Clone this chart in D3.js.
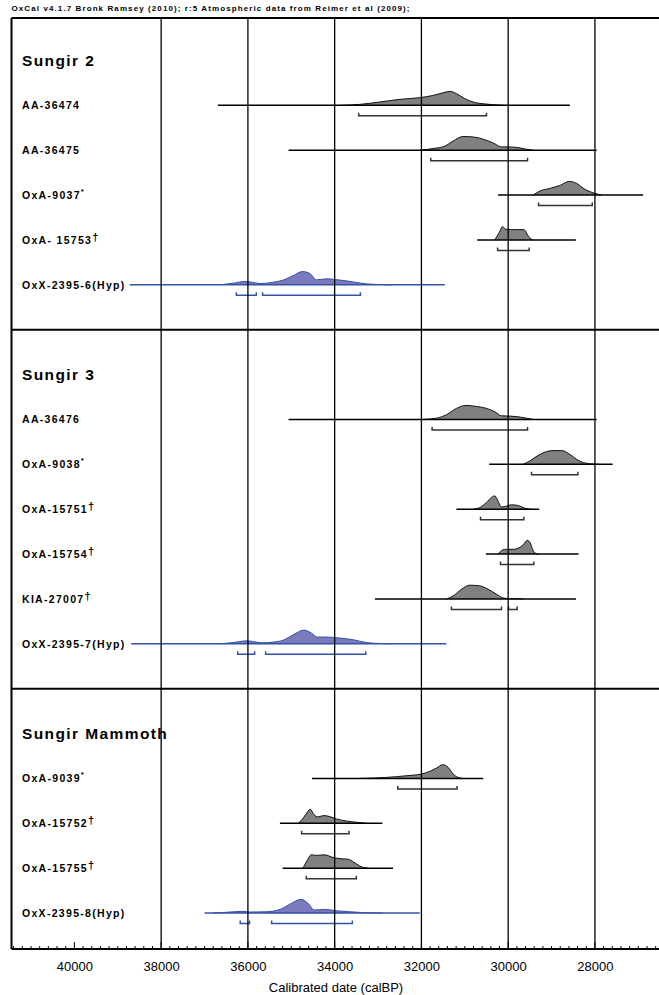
<!DOCTYPE html>
<html>
<head>
<meta charset="utf-8">
<script src="https://cdn.jsdelivr.net/npm/d3@7"></script>
<style>
  body { margin: 0; background: #fff; }
  svg { display: block; font-family: Arial, "Liberation Sans", sans-serif; }
</style>
</head>
<body>
<div class="chart"></div>
<script>
// groups and samples, top to bottom
var groups = ["Sungir 2", "Sungir 3", "Sungir Mammoth"];
var sampleLabels = ["AA-36474", "AA-36475", "OxA-9037", "OxA- 15753", "OxX-2395-6(Hyp)",
  "AA-36476", "OxA-9038", "OxA-15751", "OxA-15754", "KIA-27007", "OxX-2395-7(Hyp)",
  "OxA-9039", "OxA-15752", "OxA-15755", "OxX-2395-8(Hyp)"];
var sampleGroup = [0, 0, 0, 0, 0, 1, 1, 1, 1, 1, 1, 2, 2, 2, 2];
var sampleMark = ["", "", "*", "\u2020", "", "", "*", "\u2020", "\u2020", "\u2020", "", "*", "\u2020", "\u2020", ""];
var sampleHyp = [false, false, false, false, true, false, false, false, false, false, true, false, false, false, true];

// extent of the horizontal line for each sample (calBP)
var lineRanges = [[36693, 28578], [35063, 27962], [30235, 26890], [30715, 28440], [38725, 31460],
  [35063, 27962], [30438, 27592], [31192, 29285], [30515, 28377], [33073, 28438], [38690, 31427],
  [34523, 30577], [35262, 32900], [35200, 32654], [37000, 32038]];

// 95.4% ranges (brackets)
var ranges95 = [
  [[33446, 30500]], [[31785, 29554]], [[29300, 28062]], [[30244, 29516]], [[36267, 35807], [35661, 33406]],
  [[31754, 29554]], [[29462, 28392]], [[30638, 29638]], [[30177, 29408]], [[31308, 30154], [29992, 29792]], [[36236, 35845], [35592, 33283]],
  [[32546, 31177]], [[34762, 33669]], [[34654, 33500]], [[36177, 35962], [35454, 33592]]
];

// probability distributions: [calBP, relative probability]
var densAA36474 = [[33885, 0], [33423, 0.07], [32962, 0.24], [32500, 0.43], [32038, 0.55], [31731, 0.71], [31500, 0.9], [31346, 1], [31192, 0.84], [31000, 0.48], [30808, 0.24], [30500, 0.09], [30192, 0.02], [30038, 0]];
var densAA36475 = [[32038, 0], [31731, 0.12], [31462, 0.29], [31269, 0.66], [31038, 0.98], [30808, 0.95], [30577, 0.79], [30346, 0.52], [30154, 0.24], [30000, 0.24], [29769, 0.19], [29615, 0.09], [29423, 0]];
var densOxA9037 = [[29423, 0], [29269, 0.29], [29038, 0.48], [28808, 0.69], [28592, 0.98], [28423, 0.84], [28231, 0.41], [28038, 0.16], [27846, 0]];
var densOxA15753 = [[30308, 0], [30208, 0.52], [30131, 0.95], [30054, 0.76], [29923, 0.74], [29638, 0.74], [29538, 0.29], [29462, 0.05], [29420, 0]];
var densOxX23956 = [[36642, 0], [36336, 0.12], [36067, 0.24], [35914, 0.19], [35722, 0.09], [35415, 0.19], [35185, 0.34], [34955, 0.66], [34740, 0.95], [34572, 0.81], [34418, 0.36], [34188, 0.43], [33881, 0.34], [33574, 0.21], [33268, 0.07], [32961, 0.02], [32654, 0]];
var densAA36476 = [[31962, 0], [31654, 0.09], [31423, 0.34], [31192, 0.79], [30977, 1], [30731, 0.93], [30500, 0.79], [30308, 0.55], [30154, 0.26], [29962, 0.24], [29769, 0.19], [29577, 0.09], [29423, 0]];
var densOxA9038 = [[29654, 0], [29500, 0.24], [29308, 0.64], [29115, 0.91], [28962, 0.98], [28769, 0.98], [28577, 0.71], [28423, 0.36], [28269, 0.12], [28038, 0.02], [27880, 0]];
var densOxA15751 = [[30808, 0], [30654, 0.12], [30500, 0.48], [30385, 0.84], [30308, 0.95], [30254, 0.71], [30154, 0.16], [30077, 0.19], [29923, 0.31], [29769, 0.26], [29615, 0.07], [29462, 0]];
var densOxA15754 = [[30231, 0], [30131, 0.29], [30038, 0.34], [29885, 0.34], [29731, 0.48], [29638, 0.71], [29562, 0.98], [29500, 0.84], [29423, 0.24], [29346, 0.02], [29300, 0]];
var densKIA27007 = [[31423, 0], [31269, 0.21], [31077, 0.69], [30885, 0.98], [30654, 0.93], [30462, 0.69], [30269, 0.34], [30115, 0.07], [29962, 0.02], [29650, 0]];
var densOxX23957 = [[36642, 0], [36336, 0.09], [36029, 0.21], [35875, 0.16], [35683, 0.07], [35415, 0.12], [35185, 0.26], [34955, 0.64], [34710, 0.98], [34533, 0.76], [34403, 0.48], [34188, 0.48], [33881, 0.41], [33574, 0.29], [33268, 0.09], [32961, 0.02], [32654, 0]];
var densOxA9039 = [[33423, 0], [32808, 0.07], [32346, 0.19], [32000, 0.31], [31808, 0.5], [31654, 0.74], [31500, 0.98], [31385, 0.79], [31269, 0.31], [31154, 0.07], [31038, 0]];
var densOxA15752 = [[34846, 0], [34769, 0.19], [34669, 0.62], [34562, 1], [34477, 0.62], [34385, 0.45], [34254, 0.55], [34115, 0.48], [33962, 0.31], [33731, 0.16], [33500, 0.07], [33269, 0]];
var densOxA15755 = [[34731, 0], [34638, 0.52], [34538, 0.95], [34423, 0.91], [34231, 0.95], [34038, 0.76], [33808, 0.66], [33692, 0.64], [33562, 0.43], [33423, 0.16], [33308, 0.02], [33230, 0]];
var densOxX23958 = [[36808, 0], [36500, 0.05], [36115, 0.12], [35962, 0.07], [35577, 0.09], [35231, 0.29], [35038, 0.62], [34769, 0.98], [34615, 0.69], [34462, 0.21], [34231, 0.26], [33962, 0.16], [33654, 0.09], [33269, 0.02], [32900, 0]];

var densities = [densAA36474, densAA36475, densOxA9037, densOxA15753, densOxX23956,
  densAA36476, densOxA9038, densOxA15751, densOxA15754, densKIA27007, densOxX23957,
  densOxA9039, densOxA15752, densOxA15755, densOxX23958];

var axisDomain = [41450, 26500];
var gridYears = [38000, 36000, 34000, 32000, 30000, 28000];
var tickYears = [40000, 38000, 36000, 34000, 32000, 30000, 28000];

var svgWidth = 659, svgHeight = 995;
var plotTop = 18, plotBottom = 949, plotLeft = 11.5, plotRight = 660;
var peakHeight = 14;

var svg = d3.select(".chart").append("svg")
  .attr("width", svgWidth)
  .attr("height", svgHeight);

var x = d3.scaleLinear().domain(axisDomain).range([plotLeft, plotRight]);

// build the row slots: group title, its samples, then a divider
var slots = [];
groups.forEach(function(g, gi) {
  slots.push({ type: "title", text: g });
  sampleGroup.forEach(function(sg, si) {
    if (sg === gi) slots.push({ type: "sample", index: si });
  });
  if (gi < groups.length - 1) slots.push({ type: "divider" });
});

var y = d3.scaleLinear().domain([0, slots.length - 1]).range([60.5, 913]);
var h = d3.scaleLinear().domain([0, 1]).range([0, peakHeight]);

// header
svg.append("text")
  .attr("x", plotLeft)
  .attr("y", 11)
  .attr("textLength", 398)
  .attr("lengthAdjust", "spacing")
  .style("font-size", "8px")
  .style("font-weight", "bold")
  .text("OxCal v4.1.7 Bronk Ramsey (2010); r:5 Atmospheric data from Reimer et al (2009);");

var plot = svg.append("g");

// distributions, lines and brackets
slots.forEach(function(s, i) {
  if (s.type !== "sample") return;
  var k = s.index;
  var yb = y(i);
  var hyp = sampleHyp[k];
  var lineColor = hyp ? "#3553a5" : "#000";
  var fillColor = hyp ? "#7a7abd" : "#808080";

  var area = d3.area()
    .x(d => x(d[0]))
    .y0(yb)
    .y1(d => yb - h(d[1]))
    .curve(d3.curveMonotoneX);

  var top = d3.line()
    .x(d => x(d[0]))
    .y(d => yb - h(d[1]))
    .curve(d3.curveMonotoneX);

  plot.append("path")
    .attr("d", area(densities[k]))
    .attr("fill", fillColor);

  plot.append("path")
    .attr("d", top(densities[k]))
    .attr("fill", "none")
    .attr("stroke", hyp ? "#3553a5" : "#111")
    .attr("stroke-width", 1);

  plot.append("line")
    .attr("x1", x(lineRanges[k][0]))
    .attr("x2", x(lineRanges[k][1]))
    .attr("y1", yb)
    .attr("y2", yb)
    .attr("stroke", lineColor)
    .attr("stroke-width", 1.5);

  var yr = yb + 10.5;
  ranges95[k].forEach(function(r) {
    plot.append("path")
      .attr("d", "M" + x(r[0]) + "," + (yr - 3) + "V" + yr + "H" + x(r[1]) + "V" + (yr - 3))
      .attr("fill", "none")
      .attr("stroke", hyp ? "#3553a5" : "#333")
      .attr("stroke-width", 1.5);
  });

  // label with superscript mark
  var label = svg.append("text")
    .attr("x", 22)
    .attr("y", yb + 4)
    .style("font-size", "10.5px")
    .style("font-weight", "bold")
    .style("letter-spacing", "1.3px")
    .text(sampleLabels[k]);
  if (sampleMark[k] === "*") {
    label.append("tspan").attr("dy", -5).style("font-size", "8px").text("*");
  } else if (sampleMark[k] !== "") {
    label.append("tspan").attr("dy", -3).style("font-size", "11px").text(sampleMark[k]);
  }
});

// group titles
slots.forEach(function(s, i) {
  if (s.type !== "title") return;
  svg.append("text")
    .attr("x", 22)
    .attr("y", y(i) + 5.5)
    .style("font-size", "15.5px")
    .style("font-weight", "bold")
    .style("letter-spacing", "1.4px")
    .text(s.text);
});

// vertical grid lines
svg.selectAll(".grid")
  .data(gridYears)
  .enter()
  .append("line")
  .attr("x1", d => x(d))
  .attr("x2", d => x(d))
  .attr("y1", plotTop)
  .attr("y2", plotBottom)
  .attr("stroke", "#000")
  .attr("stroke-width", 1.3);

// dividers between groups
slots.forEach(function(s, i) {
  if (s.type !== "divider") return;
  svg.append("line")
    .attr("x1", plotLeft)
    .attr("x2", plotRight)
    .attr("y1", y(i))
    .attr("y2", y(i))
    .attr("stroke", "#000")
    .attr("stroke-width", 2);
});

// frame
svg.append("line")
  .attr("x1", plotLeft).attr("x2", plotRight)
  .attr("y1", plotTop).attr("y2", plotTop)
  .attr("stroke", "#000").attr("stroke-width", 2);
svg.append("line")
  .attr("x1", plotLeft).attr("x2", plotLeft)
  .attr("y1", plotTop).attr("y2", plotBottom)
  .attr("stroke", "#000").attr("stroke-width", 2);

// x axis: minor ticks every 200 years, pointing up
var minor = d3.range(26600, 41450, 200);
svg.selectAll(".minor")
  .data(minor)
  .enter()
  .append("line")
  .attr("x1", d => x(d))
  .attr("x2", d => x(d))
  .attr("y1", plotBottom)
  .attr("y2", d => plotBottom - (d % 2000 === 0 ? 7 : 3))
  .attr("stroke", "#000")
  .attr("stroke-width", 1);

var xAxis = d3.axisBottom(x)
  .tickValues(tickYears)
  .tickFormat(d3.format("d"))
  .tickSize(0)
  .tickPadding(13);

var axisG = svg.append("g")
  .attr("transform", `translate(0, ${plotBottom})`)
  .call(xAxis);
axisG.select(".domain").remove();
axisG.selectAll("text")
  .style("font-size", "13px")
  .style("font-family", "Arial, 'Liberation Sans', sans-serif")
  .attr("fill", "#000");

svg.append("line")
  .attr("x1", plotLeft).attr("x2", plotRight)
  .attr("y1", plotBottom).attr("y2", plotBottom)
  .attr("stroke", "#000").attr("stroke-width", 1.8);

svg.append("text")
  .attr("x", 336)
  .attr("y", 992)
  .attr("text-anchor", "middle")
  .style("font-size", "13px")
  .text("Calibrated date (calBP)");
</script>
</body>
</html>
